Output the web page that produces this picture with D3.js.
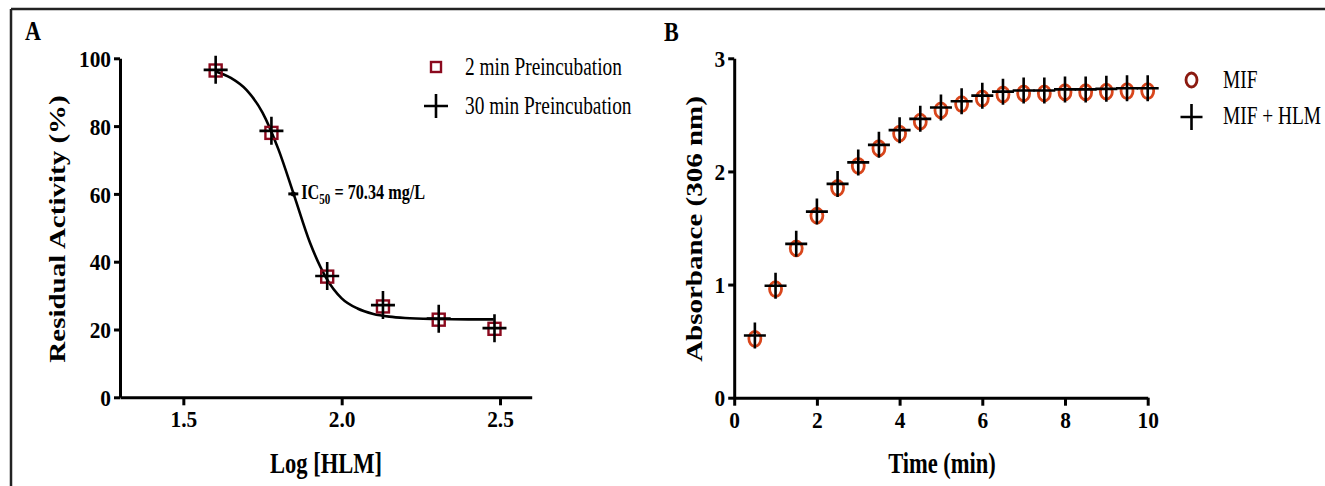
<!DOCTYPE html>
<html><head><meta charset="utf-8">
<script src="https://cdn.jsdelivr.net/npm/d3@7"></script>
<style>
html,body{margin:0;padding:0;background:#fff;}
svg{display:block;}
text{font-family:"Liberation Serif","Times New Roman",serif;fill:#000;}
</style></head>
<body>
<svg id="chart" width="1325" height="486"></svg>
<script>
// ---------- Panel A data ----------
const concA = [40, 60, 90, 135, 202.5, 303.75];           // HLM mg/L
const logConcA = concA.map(c => Math.log10(c));
const act2min = [96.4, 78.0, 35.6, 26.8, 22.9, 20.2];
const act30min = [96.6, 78.6, 35.8, 27.2, 23.2, 20.4];
const fitX = [1.60, 1.65, 1.70, 1.75, 1.80, 1.85, 1.90, 1.95, 2.00, 2.05, 2.10, 2.15, 2.20, 2.30, 2.40, 2.48];
const fitY = [96.2, 94.2, 90.6, 84.0, 73.2, 59.5, 45.6, 35.4, 29.2, 26.2, 24.6, 23.8, 23.4, 23.1, 23.0, 23.0];
const ic50 = {x: Math.log10(70.34), y: 60};
const xTicksA = [1.5, 2.0, 2.5];
const yTicksA = [0, 20, 40, 60, 80, 100];
const legendA = ["2 min Preincubation", "30 min Preincubation"];

// ---------- Panel B data ----------
const timeB = [0.5,1,1.5,2,2.5,3,3.5,4,4.5,5,5.5,6,6.5,7,7.5,8,8.5,9,9.5,10];
const absMIF = [0.52,0.96,1.32,1.61,1.855,2.05,2.205,2.335,2.44,2.54,2.595,2.645,2.68,2.69,2.69,2.70,2.70,2.705,2.71,2.71];
const absMIFHLM = [0.55,0.99,1.36,1.645,1.89,2.08,2.235,2.365,2.465,2.565,2.62,2.67,2.705,2.715,2.715,2.725,2.725,2.73,2.735,2.735];
const xTicksB = [0, 2, 4, 6, 8, 10];
const yTicksB = [0, 1, 2, 3];
const legendB = ["MIF", "MIF + HLM"];

const SQ = 0.79;   // horizontal condensing of the reference typography
const SQT = 0.95;  // tick labels
const svg = d3.select("#chart");

// outer frame (top and left edges visible)
svg.append("line").attr("x1",11).attr("y1",9).attr("x2",1325).attr("y2",9).attr("stroke","#222").attr("stroke-width",2.5);
svg.append("line").attr("x1",11).attr("y1",9).attr("x2",11).attr("y2",486).attr("stroke","#222").attr("stroke-width",2.5);

function condText(g, x, y, str, size, weight, anchor) {
  return g.append("text")
    .attr("transform", `translate(${x},${y}) scale(${SQ},1)`)
    .attr("text-anchor", anchor || "start")
    .style("font-size", size + "px").style("font-weight", weight || "normal")
    .text(str);
}
function vertTitle(x, y, str) {
  svg.append("text")
    .attr("transform", `translate(${x},${y}) scale(${SQ},1) rotate(-90)`)
    .attr("text-anchor", "middle").attr("dy", "0.35em")
    .style("font-size", "29px").style("font-weight", "bold").text(str);
}
function styleAxis(g, isY) {
  g.select(".domain").attr("stroke", "#000").attr("stroke-width", 3);
  g.selectAll(".tick line").attr("stroke", "#000").attr("stroke-width", 3);
  g.selectAll(".tick text")
    .style("font-size", "22.5px").style("font-weight", "bold")
    .attr("font-family", null);
  if (isY) {
    g.selectAll(".tick text").attr("transform", `scale(${SQT},1)`).attr("x", -9 / SQT).attr("dy", "0.36em");
  } else {
    g.selectAll(".tick text").attr("transform", `scale(${SQT},1)`).attr("y", 14).attr("dy", "0.71em");
  }
}
const plusPath = (hw, hh) => `M${-hw},0H${hw}M0,${-hh}V${hh}`;

// ================= Panel A =================
const xA = d3.scaleLinear().domain([1.3, 2.6]).range([120, 531.7]);
const yA = d3.scaleLinear().domain([0, 100]).range([397.3, 58.3]);

const gxA = svg.append("g").attr("transform", `translate(0,${yA(0)})`)
  .call(d3.axisBottom(xA).tickValues(xTicksA).tickFormat(d3.format(".1f")).tickSize(8).tickSizeOuter(0));
styleAxis(gxA, false);
const gyA = svg.append("g").attr("transform", `translate(${xA(1.3)},0)`)
  .call(d3.axisLeft(yA).tickValues(yTicksA).tickFormat(d3.format("d")).tickSize(6).tickSizeOuter(0));
styleAxis(gyA, true);

// fitted curve
svg.append("path")
  .datum(fitX.map((x, i) => [x, fitY[i]]))
  .attr("fill", "none").attr("stroke", "#000").attr("stroke-width", 2.6)
  .attr("d", d3.line().x(d => xA(d[0])).y(d => yA(d[1])).curve(d3.curveMonotoneX));

// squares (2 min)
svg.append("g").selectAll("rect").data(logConcA.map((x, i) => [x, act2min[i]])).join("rect")
  .attr("x", d => xA(d[0]) - 6).attr("y", d => yA(d[1]) - 6)
  .attr("width", 12).attr("height", 12)
  .attr("fill", "none").attr("stroke", "#8b0a1e").attr("stroke-width", 2.4);
// plus (30 min)
svg.append("g").selectAll("path").data(logConcA.map((x, i) => [x, act30min[i]])).join("path")
  .attr("transform", d => `translate(${xA(d[0])},${yA(d[1])})`)
  .attr("d", plusPath(12, 14)).attr("stroke", "#000").attr("stroke-width", 2.6).attr("fill", "none");

// IC50 marker and label
svg.append("line")
  .attr("x1", xA(ic50.x) - 5).attr("x2", xA(ic50.x) + 5).attr("y1", yA(ic50.y)).attr("y2", yA(ic50.y))
  .attr("stroke", "#000").attr("stroke-width", 3);
svg.append("circle").attr("cx", xA(ic50.x)).attr("cy", yA(ic50.y)).attr("r", 2.5).attr("fill", "#000");
const icT = svg.append("text")
  .attr("transform", `translate(${xA(ic50.x) + 8},${yA(ic50.y) + 5.5}) scale(${SQ},1)`)
  .style("font-size", "20.5px").style("font-weight", "bold");
icT.append("tspan").text("IC");
icT.append("tspan").attr("dy", 5).style("font-size", "14px").text("50");
icT.append("tspan").attr("dy", -5).text(" = 70.34 mg/L");

// axis titles A
condText(svg, 326, 473, "Log [HLM]", 28.5, "bold", "middle");
vertTitle(57, 229, "Residual Activity (%)");
condText(svg, 25, 40, "A", 28, "bold");

// legend A
svg.append("rect").attr("x", 436 - 5).attr("y", 67 - 5).attr("width", 10).attr("height", 10)
  .attr("fill", "none").attr("stroke", "#8b0a1e").attr("stroke-width", 2.4);
svg.append("path").attr("transform", "translate(436,106)").attr("d", plusPath(12, 12))
  .attr("stroke", "#000").attr("stroke-width", 2.6);
condText(svg, 465, 75, legendA[0], 24.5);
condText(svg, 465, 114, legendA[1], 24.5);

// ================= Panel B =================
const xB = d3.scaleLinear().domain([0, 10]).range([734.2, 1147.7]);
const yB = d3.scaleLinear().domain([0, 3]).range([397.7, 58.3]);

const gxB = svg.append("g").attr("transform", `translate(0,${yB(0)})`)
  .call(d3.axisBottom(xB).tickValues(xTicksB).tickFormat(d3.format("d")).tickSize(8).tickSizeOuter(0));
styleAxis(gxB, false);
const gyB = svg.append("g").attr("transform", `translate(${xB(0)},0)`)
  .call(d3.axisLeft(yB).tickValues(yTicksB).tickFormat(d3.format("d")).tickSize(6).tickSizeOuter(0));
styleAxis(gyB, true);

// MIF circles
svg.append("g").selectAll("ellipse").data(timeB.map((t, i) => [t, absMIF[i]])).join("ellipse")
  .attr("cx", d => xB(d[0])).attr("cy", d => yB(d[1]))
  .attr("rx", 6).attr("ry", 7.5)
  .attr("fill", "none").attr("stroke", "#d8461c").attr("stroke-width", 2.8);
// MIF + HLM plus
svg.append("g").selectAll("path").data(timeB.map((t, i) => [t, absMIFHLM[i]])).join("path")
  .attr("transform", d => `translate(${xB(d[0])},${yB(d[1])})`)
  .attr("d", plusPath(11, 13)).attr("stroke", "#000").attr("stroke-width", 2.6).attr("fill", "none");

condText(svg, 942, 473, "Time (min)", 28.5, "bold", "middle");
vertTitle(694, 229, "Absorbance (306 nm)");
condText(svg, 664, 41, "B", 28, "bold");

// legend B
svg.append("ellipse").attr("cx", 1191.5).attr("cy", 80).attr("rx", 5.5).attr("ry", 7)
  .attr("fill", "none").attr("stroke", "#8b1a10").attr("stroke-width", 2.8);
svg.append("path").attr("transform", "translate(1191.5,117)").attr("d", plusPath(11, 13))
  .attr("stroke", "#000").attr("stroke-width", 2.6);
condText(svg, 1223, 88, legendB[0], 24.5);
condText(svg, 1223, 124, legendB[1], 24.5);
</script>
</body></html>
